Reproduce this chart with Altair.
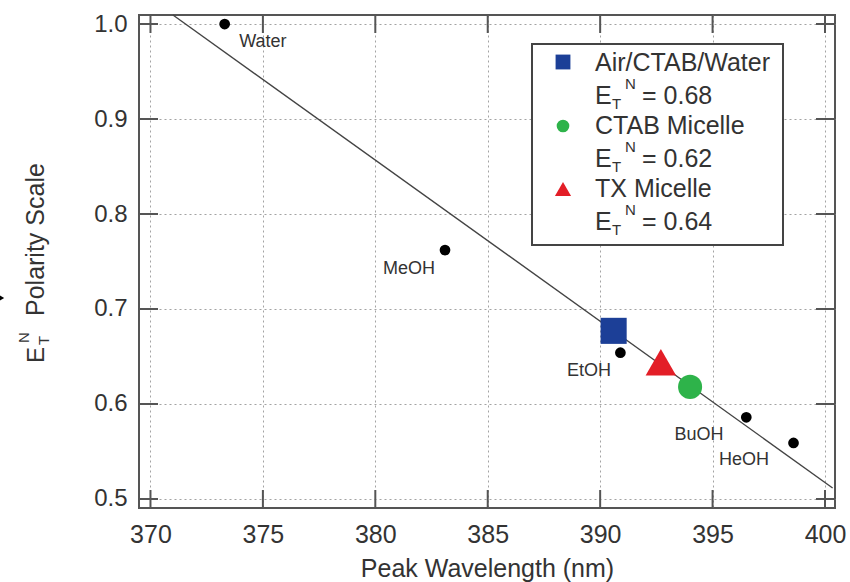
import altair as alt
import pandas as pd

# ---------------- data ----------------
solvent_names = ["Water", "MeOH", "EtOH", "BuOH", "HeOH"]
solvent_wl = [373.3, 383.1, 390.9, 396.5, 398.6]
solvent_et = [1.000, 0.762, 0.654, 0.586, 0.559]
label_wl = [375.0, 381.5, 389.5, 394.4, 396.4]
label_et = [0.981, 0.742, 0.635, 0.567, 0.541]

probe_names = ["Air/CTAB/Water", "CTAB Micelle", "TX Micelle"]
probe_wl = [390.6, 394.0, 392.7]
probe_et = [0.677, 0.618, 0.644]
probe_et_text = ["= 0.68", "= 0.62", "= 0.64"]
probe_shapes = ["square", "circle", "triangle-up"]
probe_colors = ["#1c3f97", "#2eb34a", "#e31e27"]

fit_wl = [371.0, 400.34]
fit_et = [1.0095, 0.5116]

x_ticks = [370, 375, 380, 385, 390, 395, 400]
y_ticks = [0.5, 0.6, 0.7, 0.8, 0.9, 1.0]

# ---------------- layout constants ----------------
W, H = 696, 493
FONT = "Liberation Sans"
TXT = "#333333"
FRAME = "#555555"

xs = alt.Scale(domain=[369.49, 400.445], nice=False, zero=False)
ys = alt.Scale(domain=[0.4905, 1.0095], nice=False, zero=False)

solv = pd.DataFrame({"name": solvent_names, "wl": solvent_wl, "et": solvent_et,
                     "lwl": label_wl, "let": label_et})
probes = pd.DataFrame({"name": probe_names, "wl": probe_wl, "et": probe_et,
                       "shape": probe_shapes, "color": probe_colors,
                       "size": [680, 580, 930]})
fit = pd.DataFrame({"wl": fit_wl, "et": fit_et})
xt = pd.DataFrame({"v": x_ticks})
yt = pd.DataFrame({"v": y_ticks})

# axes (grid + labels)
axes = alt.Chart(xt).mark_point(opacity=0).encode(
    x=alt.X("v:Q", scale=xs,
            axis=alt.Axis(values=x_ticks, format="d", title="Peak Wavelength (nm)",
                          grid=True, ticks=False, domain=False, labelPadding=14,
                          labelFontSize=25, titleY=68, titleBaseline="alphabetic")),
    y=alt.Y("v2:Q", scale=ys,
            axis=alt.Axis(values=y_ticks, format=".1f", title=None,
                          grid=True, ticks=False, domain=False, labelPadding=12,
                          labelFontSize=24)),
).transform_calculate(v2="0.75")

# inward ticks on all four sides
tick_len = 18
tb = alt.Chart(xt).mark_rule(color=FRAME, strokeWidth=2).encode(
    x=alt.X("v:Q", scale=xs), y=alt.value(H), y2=alt.value(H - tick_len))
tt = alt.Chart(xt).mark_rule(color=FRAME, strokeWidth=2).encode(
    x=alt.X("v:Q", scale=xs), y=alt.value(0), y2=alt.value(tick_len))
tl = alt.Chart(yt).mark_rule(color=FRAME, strokeWidth=2).encode(
    y=alt.Y("v:Q", scale=ys), x=alt.value(0), x2=alt.value(tick_len + 1))
tr = alt.Chart(yt).mark_rule(color=FRAME, strokeWidth=2).encode(
    y=alt.Y("v:Q", scale=ys), x=alt.value(W), x2=alt.value(W - tick_len - 1))

fit_line = alt.Chart(fit).mark_line(color="#444444", strokeWidth=1.4).encode(
    x=alt.X("wl:Q", scale=xs), y=alt.Y("et:Q", scale=ys))

dots = alt.Chart(solv).mark_point(filled=True, color="black", opacity=1, size=115).encode(
    x=alt.X("wl:Q", scale=xs), y=alt.Y("et:Q", scale=ys))

labels = alt.Chart(solv).mark_text(font=FONT, fontSize=18, color=TXT).encode(
    x=alt.X("lwl:Q", scale=xs), y=alt.Y("let:Q", scale=ys), text="name:N")

probe_pts = alt.Chart(probes).mark_point(filled=True, opacity=1).encode(
    x=alt.X("wl:Q", scale=xs), y=alt.Y("et:Q", scale=ys),
    shape=alt.Shape("shape:N", scale=None),
    color=alt.Color("color:N", scale=None),
    size=alt.Size("size:Q", scale=None))

one = alt.Data(values=[{"a": 1}])


def txt(s, x, y, size, angle=0, align="left", baseline="alphabetic"):
    return alt.Chart(one).mark_text(
        text=s, font=FONT, fontSize=size, color=TXT, align=align,
        baseline=baseline, angle=angle
    ).encode(x=alt.value(x), y=alt.value(y))


L, T = 139, 15  # plot origin in page px

# legend box
legend_box = alt.Chart(one).mark_rect(fill="white", stroke="#444444", strokeWidth=2).encode(
    x=alt.value(532 - L), x2=alt.value(783 - L), y=alt.value(44 - T), y2=alt.value(245 - T))

legend_layers = [legend_box]
row_name_base = [71, 134, 197]
row_e_base = [104, 167, 230]
sym_y = [62, 126, 189]
sym_sizes = [220, 160, 260]
for i in range(3):
    legend_layers.append(
        alt.Chart(one).mark_point(filled=True, opacity=1, shape=probe_shapes[i],
                                  color=probe_colors[i], size=sym_sizes[i]).encode(
            x=alt.value(563 - L), y=alt.value(sym_y[i] - T)))
    legend_layers.append(txt(probe_names[i], 595 - L, row_name_base[i] - T, 25))
    legend_layers.append(txt("E", 595 - L, row_e_base[i] - T, 25))
    legend_layers.append(txt("T", 612 - L, row_e_base[i] + 5 - T, 15))
    legend_layers.append(txt("N", 625 - L, row_e_base[i] - 15 - T, 15))
    legend_layers.append(txt(probe_et_text[i], 642 - L, row_e_base[i] - T, 25))

# y-axis title built from pieces (E with sub T and sup N)
ytitle = [
    txt("E", 44 - L, 363 - T, 24, angle=270),
    txt("T", 49 - L, 345 - T, 15, angle=270),
    txt("N", 29 - L, 343 - T, 15, angle=270),
    txt("Polarity Scale", 44 - L, 316 - T, 25, angle=270),
]

mark_arrow = alt.Chart(one).mark_point(filled=True, opacity=1, shape="triangle-right",
                                       color="black", size=25).encode(
    x=alt.value(2 - L), y=alt.value(298 - T))

chart = alt.layer(
    axes, fit_line, dots, labels, probe_pts, tb, tt, tl, tr,
    *legend_layers, *ytitle, mark_arrow
).properties(
    width=W, height=H,
    autosize=alt.AutoSizeParams(type="none"),
    padding={"left": L, "top": T, "right": 850 - L - W, "bottom": 582 - T - H},
    background="white",
).configure_view(
    stroke=FRAME, strokeWidth=2
).configure_axis(
    labelFont=FONT, labelColor=TXT,
    titleFont=FONT, titleFontSize=25, titleColor=TXT, titleFontWeight="normal",
    gridColor="#999999", gridDash=[2, 3], gridWidth=1, gridOpacity=0.9,
)

chart.save("out.html", embed_options={"renderer": "svg", "actions": False})
